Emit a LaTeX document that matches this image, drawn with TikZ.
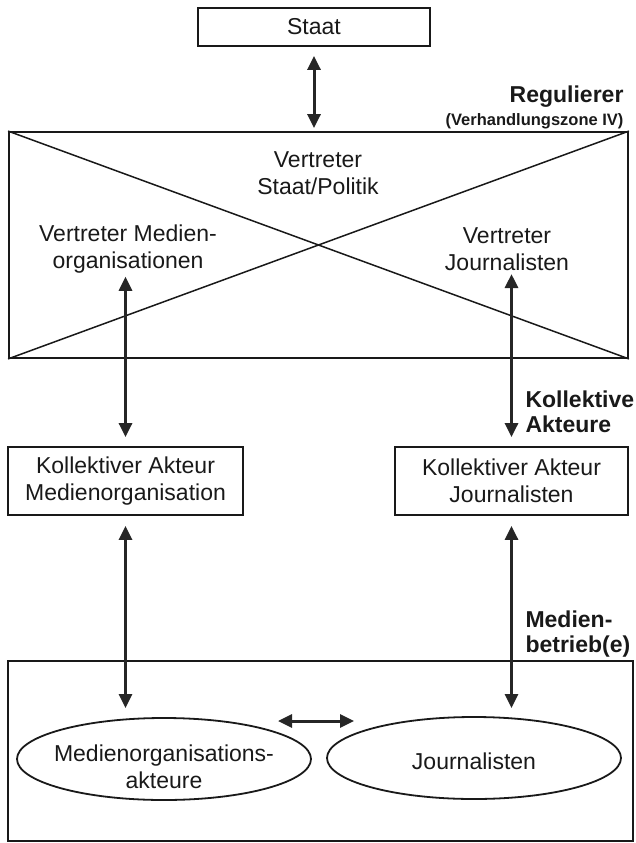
\documentclass[tikz,border=0pt]{standalone}
\usepackage{fontspec}
\setmainfont{Liberation Sans}
\usetikzlibrary{arrows.meta,shapes.geometric}

\begin{document}
\begin{tikzpicture}[%
	x=1pt, y=-1pt,
	every node/.style = {align=center, text=black!90, font=\fontsize{23}{27}\selectfont},
	box/.style = {shape=rectangle, draw=black!90, line width=1.8pt, inner sep=0pt},
	actor/.style = {shape=ellipse, draw=black!90, line width=1.8pt, inner sep=0pt,
		minimum width=294pt, minimum height=82pt},
	tag/.style = {align=left, anchor=west, font=\fontsize{23}{25}\selectfont\bfseries},
	link/.style = {{Triangle[length=14pt,width=13pt]}-{Triangle[length=14pt,width=13pt]},
		line width=3pt, draw=black!85}
	]
  \useasboundingbox (0,0) rectangle (635,843);
  % boxes
  \node [box, minimum width=232pt, minimum height=38pt] (staat) at (314,27) {Staat};
  \node [box, minimum width=619pt, minimum height=226pt] (reg) at (318.5,245) {};
  \node [box, minimum width=235pt, minimum height=68pt] (kam) at (125.5,481)
  	{Kollektiver Akteur\\Medienorganisation};
  \node [box, minimum width=233pt, minimum height=68pt] (kaj) at (511.5,481)
  	{Kollektiver Akteur\\Journalisten};
  \node [box, minimum width=625pt, minimum height=180pt] (betr) at (320.5,751) {};
  \draw [line width=1.5pt, black!90] (reg.north west) -- (reg.south east)
  	(reg.south west) -- (reg.north east);
  % texts in the cross
  \node (vsp) at (318,173) {Vertreter\\Staat/Politik};
  \node (vmo) at (128,249) {Vertreter Medien-\\organisationen};
  \node (vjo) at (507,249) {Vertreter\\Journalisten};
  % ellipses
  \node [actor] (moa) at (164,759) {};
  \node [actor] (jou) at (474,758) {};
  \node (moat) at (164,767) {Medienorganisations-\\akteure};
  \node (jout) at (474,761) {Journalisten};
  % side labels
  \node [anchor=east, font=\fontsize{23}{27}\selectfont\bfseries] (regl) at (627,97) {Regulierer};
  \node [anchor=east, font=\fontsize{16.5}{19}\selectfont\bfseries] (vhz) at (627,121) {(Verhandlungszone IV)};
  \node [tag] (kol) at (522,412) {Kollektive\\Akteure};
  \node [tag] (mbe) at (522,634) {Medien-\\betrieb(e)};
  % arrows
  \draw [link, shorten <=9pt, shorten >=3pt] (staat.south) -- (reg.north -| staat.south);
  \draw [link, shorten >=9pt] (kam.north |- vmo.south) -- (kam.north);
  \draw [link, shorten >=9pt] (kaj.north |- vjo.south) -- (kaj.north);
  \draw [link, shorten <=10pt] (kam.south) -- (kam.south |- 0,708);
  \draw [link, shorten <=10pt] (kaj.south) -- (kaj.south |- 0,708);
  \coordinate (hl) at (278,721);
  \coordinate (hr) at (354,721);
  \draw [link] (hl) -- (hr);
\end{tikzpicture}
\end{document}
